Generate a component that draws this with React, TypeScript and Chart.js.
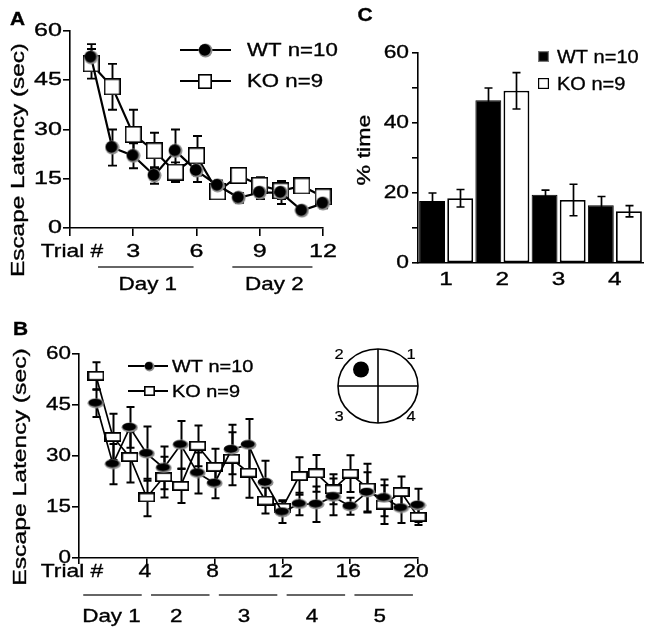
import React, { useEffect, useRef } from 'react';
import { Chart, registerables } from 'chart.js';

Chart.register(...registerables);

const FONT = '"Liberation Sans", Arial, Helvetica, sans-serif';

// ---------------- Panel A data ----------------
const trialsA = [1, 2, 3, 4, 5, 6, 7, 8, 9, 10, 11, 12];
const wtA = [52, 24.5, 22, 16, 23.5, 17.5, 13, 9.2, 10.8, 10.8, 5.3, 7.5];
const wtAErr = [4, 5.5, 3.8, 2.5, 6.5, 3.5, 1.5, 1.5, 2, 3.5, 1, 1.5];
const koA = [50, 43, 28.5, 23.5, 17, 22, 11, 16, 13, 11.3, 12.8, 9.5];
const koAErr = [4.5, 7, 7.5, 5.5, 3, 6, 1.5, 1.5, 2.5, 2.5, 1.5, 1.5];
const daysA = [
  { label: 'Day 1', from: 1.33, to: 5.86 },
  { label: 'Day 2', from: 7.7, to: 11.5 },
];

// ---------------- Panel B data ----------------
const trialsB = [1, 2, 3, 4, 5, 6, 7, 8, 9, 10, 11, 12, 13, 14, 15, 16, 17, 18, 19, 20];
const wtB = [45.5, 27.6, 38.4, 30.7, 26.5, 33.3, 25, 22, 31.9, 33.3, 22.2, 13.5, 15.9, 15.8, 18, 15.2, 19.3, 17.7, 14.7, 15.5];
const wtBErr = [4, 5.9, 6, 8, 6.3, 7, 6, 4.4, 7.3, 7.6, 6.4, 3.2, 3.3, 5.2, 5.4, 2.5, 5.9, 5.4, 4.4, 4.9];
const koB = [53.6, 35.6, 29.7, 17.8, 23.8, 21.2, 33, 26.8, 29.2, 25.1, 16.9, 14.8, 24.1, 24.9, 20.2, 24.8, 20.7, 15.7, 19.4, 12.1];
const koBErr = [4, 6.8, 7.5, 5.5, 6, 5, 6, 5.3, 7.8, 7.4, 3.8, 2.2, 5.5, 5.4, 4.4, 5.4, 7, 5.7, 4.6, 2.4];
const daysB = ['Day 1', '2', '3', '4', '5'];
const trialsPerDayB = 4;
const quadrantLabels = ['1', '2', '3', '4'];

// ---------------- Panel C data ----------------
const quadrants = ['1', '2', '3', '4'];
const wtC = [17.7, 46.5, 19.5, 16.5];
const wtCErr = [2.3, 3.5, 1.3, 2.5];
const koC = [18.5, 49.2, 18, 14.8];
const koCErr = [2.5, 5.2, 4.5, 1.6];

const seriesLabels = ['WT n=10', 'KO n=9'];

const trialLabel = (v: number) => (v === 0 ? 'Trial #' : String(v));

function drawText(ctx: any, s: string, x: number, y: number, o: any = {}) {
  const { size = 19, stretch = 1.2, align = 'center', bold = false, rot = 0, color = '#000', thick = 0.35 } = o;
  ctx.save();
  ctx.translate(x, y);
  if (rot) ctx.rotate(rot);
  ctx.scale(stretch, 1);
  ctx.font = `${bold ? 'bold ' : ''}${size}px ${FONT}`;
  ctx.fillStyle = color;
  ctx.strokeStyle = color;
  ctx.lineWidth = thick;
  ctx.textAlign = align;
  ctx.textBaseline = 'middle';
  ctx.fillText(s, 0, 0);
  if (thick > 0) ctx.strokeText(s, 0, 0);
  ctx.restore();
}

function makeDisc(w: number, h: number) {
  const c = document.createElement('canvas');
  c.width = w;
  c.height = h;
  const g = c.getContext('2d')!;
  const cx = w / 2, cy = h / 2, rx = w / 2 - 0.5, ry = h / 2 - 0.5;
  g.fillStyle = '#8c8c8c';
  g.beginPath();
  g.ellipse(cx, cy, rx, ry, 0, 0, Math.PI * 2);
  g.fill();
  g.fillStyle = '#000';
  g.beginPath();
  g.ellipse(cx - 0.7, cy - 0.7, rx - 1.1, ry - 1.1, 0, 0, Math.PI * 2);
  g.fill();
  return c;
}

function makeBox(w: number, h: number, lw: number) {
  const c = document.createElement('canvas');
  c.width = w;
  c.height = h;
  const g = c.getContext('2d')!;
  g.fillStyle = '#fff';
  g.fillRect(0, 0, w, h);
  g.strokeStyle = '#000';
  g.lineWidth = lw;
  g.strokeRect(lw / 2, lw / 2, w - lw, h - lw);
  return c;
}

function drawErr(chart: any, opts: any) {
  const { ctx } = chart;
  const ys = chart.scales.y;
  ctx.save();
  ctx.strokeStyle = '#000';
  ctx.lineWidth = opts.width || 1.8;
  const cap = opts.cap || 4;
  chart.data.datasets.forEach((ds: any, i: number) => {
    if (!ds.errors) return;
    const meta = chart.getDatasetMeta(i);
    meta.data.forEach((el: any, j: number) => {
      const d = ds.data[j];
      const v = typeof d === 'number' ? d : d.y;
      const e = ds.errors[j];
      const x = Math.round(el.x) + 0.5;
      const t = ys.getPixelForValue(v + e);
      const b = ys.getPixelForValue(v - e);
      ctx.beginPath();
      ctx.moveTo(x, t);
      ctx.lineTo(x, b);
      ctx.moveTo(x - cap, t);
      ctx.lineTo(x + cap, t);
      ctx.moveTo(x - cap, b);
      ctx.lineTo(x + cap, b);
      ctx.stroke();
    });
  });
  ctx.restore();
}

const errorBarPlugin = {
  id: 'errorBars',
  beforeDatasetsDraw(chart: any, _a: any, opts: any) {
    if (opts.layer === 'below') drawErr(chart, opts);
  },
  afterDatasetsDraw(chart: any, _a: any, opts: any) {
    if (opts.layer !== 'below') drawErr(chart, opts);
  },
};

const axisGrid = (len: number) => ({
  drawOnChartArea: false,
  drawTicks: true,
  tickLength: len,
  color: '#000',
  lineWidth: 1.6,
});
const axisBorder = { color: '#000', width: 1.6 };

function line(ctx: any, x1: number, y1: number, x2: number, y2: number, w = 1.5, color = '#000') {
  ctx.save();
  ctx.strokeStyle = color;
  ctx.lineWidth = w;
  ctx.beginPath();
  ctx.moveTo(x1, y1);
  ctx.lineTo(x2, y2);
  ctx.stroke();
  ctx.restore();
}

// ---------------- Panel A config ----------------
function configA(W: number, H: number) {
  const deco = {
    id: 'decoA',
    afterDraw(chart: any) {
      const { ctx } = chart;
      const x = chart.scales.x, y = chart.scales.y;
      y.ticks.forEach((t: any) =>
        drawText(ctx, String(t.value), y.right - 8, y.getPixelForValue(t.value), { align: 'right', stretch: 1.32 })
      );
      x.ticks.forEach((t: any) =>
        drawText(ctx, trialLabel(t.value), x.getPixelForValue(t.value) + (t.value === 0 ? 2 : 0), x.bottom + 16, {
          stretch: t.value === 0 ? 1.2 : 1.32,
        })
      );
      daysA.forEach((d) => {
        const x1 = x.getPixelForValue(d.from), x2 = x.getPixelForValue(d.to);
        line(ctx, x1, 267, x2, 267, 1.7, '#333');
        drawText(ctx, d.label, (x1 + x2) / 2 + 2, 285, { stretch: 1.18 });
      });
      drawText(ctx, 'Escape Latency (sec)', 19, 160, { rot: -Math.PI / 2, stretch: 1.28 });
      drawText(ctx, 'A', 17.5, 20, { bold: true, size: 19, stretch: 1.1 });
      chart.data.datasets.forEach((ds: any, i: number) => {
        const yy = 50 + i * 31;
        line(ctx, 180, yy, 231, yy, 2.2);
        const m = ds.legendMarker;
        ctx.drawImage(m, Math.round(205 - m.width / 2), Math.round(yy - m.height / 2));
        drawText(ctx, ds.label, 247, yy + 1, { align: 'left', size: 19, stretch: 1.17 });
      });
    },
  };
  return {
    type: 'line',
    data: {
      datasets: [
        {
          label: seriesLabels[0],
          data: trialsA.map((t, i) => ({ x: t, y: wtA[i] })),
          errors: wtAErr,
          borderColor: '#000',
          borderWidth: 2.2,
          pointStyle: makeDisc(15, 15),
          legendMarker: makeDisc(15, 15),
          pointRadius: 8,
          clip: false,
        },
        {
          label: seriesLabels[1],
          data: trialsA.map((t, i) => ({ x: t, y: koA[i] })),
          errors: koAErr,
          borderColor: '#000',
          borderWidth: 2.2,
          pointStyle: makeBox(17, 17, 1.6),
          legendMarker: makeBox(14, 15, 1.6),
          pointRadius: 8,
          clip: false,
        },
      ],
    },
    options: {
      animation: false,
      responsive: false,
      devicePixelRatio: 1,
      events: [],
      layout: { padding: { left: 0, right: W - 323, top: 31, bottom: H - 228 - 8 } },
      plugins: { legend: { display: false }, tooltip: { enabled: false }, errorBars: { layer: 'below', cap: 4.5, width: 1.9 } },
      scales: {
        x: {
          type: 'linear', min: 0, max: 12,
          ticks: { display: false, stepSize: 3 },
          grid: axisGrid(8), border: axisBorder,
          afterFit: (s: any) => { s.height = 8; },
        },
        y: {
          min: 0, max: 60,
          ticks: { display: false, stepSize: 15 },
          grid: axisGrid(7), border: axisBorder,
          afterFit: (s: any) => { s.width = 70; },
        },
      },
    },
    plugins: [errorBarPlugin, deco],
  };
}

// ---------------- Panel B config ----------------
function configB(W: number, H: number, top: number) {
  const deco = {
    id: 'decoB',
    afterDraw(chart: any) {
      const { ctx } = chart;
      const x = chart.scales.x, y = chart.scales.y;
      y.ticks.forEach((t: any) =>
        drawText(ctx, String(t.value), y.right - 8, y.getPixelForValue(t.value), { align: 'right', stretch: 1.18 })
      );
      x.ticks.forEach((t: any) =>
        drawText(ctx, trialLabel(t.value), x.getPixelForValue(t.value) + (t.value === 0 ? -7 : -2), x.bottom + 8, {
          stretch: 1.2,
        })
      );
      daysB.forEach((lab, k) => {
        const x1 = x.getPixelForValue(k * trialsPerDayB + 0.25);
        const x2 = x.getPixelForValue((k + 1) * trialsPerDayB - 0.3);
        line(ctx, x1, 295, x2, 295, 1.7, '#333');
        drawText(ctx, lab, (x1 + x2) / 2 - (k === 0 ? 1 : 4), 317, { stretch: 1.18 });
      });
      drawText(ctx, 'Escape Latency (sec)', 20.5, 167, { rot: -Math.PI / 2, stretch: 1.3 });
      drawText(ctx, 'B', 20.5, 30, { bold: true, size: 19, stretch: 1.1 });
      chart.data.datasets.forEach((ds: any, i: number) => {
        const yy = 66 + i * 25;
        line(ctx, 128, yy, 168, yy, 2);
        const m = ds.legendMarker;
        ctx.drawImage(m, Math.round(149 - m.width / 2), Math.round(yy - m.height / 2));
        drawText(ctx, ds.label, 172, yy + 1, { align: 'left', size: 17, stretch: 1.17 });
      });
      // water-maze quadrant inset
      const cx = 378, cy = 386 - top, rx = 40, ry = 37;
      ctx.save();
      ctx.strokeStyle = '#000';
      ctx.lineWidth = 1.6;
      ctx.beginPath();
      ctx.ellipse(cx, cy, rx, ry, 0, 0, Math.PI * 2);
      ctx.stroke();
      ctx.beginPath();
      ctx.moveTo(cx - rx, cy);
      ctx.lineTo(cx + rx, cy);
      ctx.moveTo(cx, cy - ry);
      ctx.lineTo(cx, cy + ry);
      ctx.stroke();
      ctx.fillStyle = '#000';
      ctx.beginPath();
      ctx.ellipse(361, 369.5 - top, 8, 8, 0, 0, Math.PI * 2);
      ctx.fill();
      ctx.restore();
      const qpos = [[411, 355], [339, 355], [339, 417], [411, 417]];
      quadrantLabels.forEach((q, i) => drawText(ctx, q, qpos[i][0], qpos[i][1] - top, { size: 15, stretch: 1.1, thick: 0.2 }));
    },
  };
  return {
    type: 'line',
    data: {
      datasets: [
        {
          label: seriesLabels[0],
          data: trialsB.map((t, i) => ({ x: t, y: wtB[i] })),
          errors: wtBErr,
          borderColor: '#000',
          borderWidth: 1.7,
          pointStyle: makeDisc(17, 11),
          legendMarker: makeDisc(11, 11),
          pointRadius: 8,
          clip: false,
        },
        {
          label: seriesLabels[1],
          data: trialsB.map((t, i) => ({ x: t, y: koB[i] })),
          errors: koBErr,
          borderColor: '#000',
          borderWidth: 1.7,
          pointStyle: makeBox(17, 10, 1.8),
          legendMarker: makeBox(11, 10, 1.6),
          pointRadius: 8,
          clip: false,
        },
      ],
    },
    options: {
      animation: false,
      responsive: false,
      devicePixelRatio: 1,
      events: [],
      layout: { padding: { left: 0, right: W - 418, top: 354 - top, bottom: H - (558 - top) - 6 } },
      plugins: { legend: { display: false }, tooltip: { enabled: false }, errorBars: { layer: 'below', cap: 4, width: 2 } },
      scales: {
        x: {
          type: 'linear', min: 0, max: 20,
          ticks: { display: false, stepSize: 4 },
          grid: axisGrid(6), border: axisBorder,
          afterFit: (s: any) => { s.height = 6; },
        },
        y: {
          min: 0, max: 60,
          ticks: { display: false, stepSize: 15 },
          grid: axisGrid(7), border: axisBorder,
          afterFit: (s: any) => { s.width = 79; },
        },
      },
    },
    plugins: [errorBarPlugin, deco],
  };
}

// ---------------- Panel C config ----------------
function configC(W: number, H: number, left: number) {
  const deco = {
    id: 'decoC',
    afterDraw(chart: any) {
      const { ctx } = chart;
      const x = chart.scales.x, y = chart.scales.y;
      y.ticks.forEach((t: any) => {
        if (t.value % 20 !== 0) return;
        drawText(ctx, String(t.value), y.right - 9, y.getPixelForValue(t.value), { align: 'right', stretch: 1.2 });
      });
      quadrants.forEach((q, i) => drawText(ctx, q, x.getPixelForValue(i), 280, { stretch: 1.28 }));
      drawText(ctx, '% time', 365 - left, 150, { rot: -Math.PI / 2, stretch: 1.22 });
      drawText(ctx, 'C', 365 - left, 16, { bold: true, size: 19, stretch: 1.1 });
      chart.data.datasets.forEach((ds: any, i: number) => {
        const yy = 56.5 + i * 27;
        const sx = 538 - left;
        ctx.save();
        ctx.fillStyle = ds.backgroundColor;
        ctx.fillRect(sx, yy - 5.5, 11, 11);
        ctx.strokeStyle = i === 0 ? '#777' : '#000';
        ctx.lineWidth = 1.2;
        ctx.strokeRect(sx + 0.6, yy - 4.9, 9.8, 9.8);
        ctx.restore();
        drawText(ctx, ds.label, 557 - left, yy + 1, { align: 'left', size: 18.5, stretch: 1.08 });
      });
    },
  };
  return {
    type: 'bar',
    data: {
      labels: quadrants,
      datasets: [
        {
          label: seriesLabels[0],
          data: wtC,
          errors: wtCErr,
          backgroundColor: '#000',
          borderColor: '#000',
          borderWidth: 1,
          barPercentage: 0.92,
          categoryPercentage: 1,
        },
        {
          label: seriesLabels[1],
          data: koC,
          errors: koCErr,
          backgroundColor: '#fff',
          borderColor: '#000',
          borderWidth: 1.8,
          borderSkipped: false,
          barPercentage: 0.92,
          categoryPercentage: 1,
        },
      ],
    },
    options: {
      animation: false,
      responsive: false,
      devicePixelRatio: 1,
      events: [],
      layout: { padding: { left: 0, right: W - (643 - left), top: 53, bottom: H - 263 } },
      plugins: { legend: { display: false }, tooltip: { enabled: false }, errorBars: { layer: 'above', cap: 4, width: 1.7 } },
      scales: {
        x: {
          ticks: { display: false },
          grid: { display: false },
          border: axisBorder,
          afterFit: (s: any) => { s.height = 0; },
        },
        y: {
          min: 0, max: 60,
          ticks: { display: false, stepSize: 10 },
          grid: axisGrid(6), border: axisBorder,
          afterFit: (s: any) => { s.width = 418 - left; },
        },
      },
    },
    plugins: [errorBarPlugin, deco],
  };
}

export default function App() {
  const aRef = useRef<HTMLCanvasElement>(null);
  const bRef = useRef<HTMLCanvasElement>(null);
  const cRef = useRef<HTMLCanvasElement>(null);

  useEffect(() => {
    const charts: Chart[] = [];
    charts.push(new Chart(aRef.current as any, configA(345, 300) as any));
    charts.push(new Chart(cRef.current as any, configC(321, 300, 330) as any));
    charts.push(new Chart(bRef.current as any, configB(450, 336, 300) as any));
    return () => charts.forEach((c) => c.destroy());
  }, []);

  return (
    <div style={{ position: 'fixed', left: 0, top: 0, width: 651, height: 636, background: '#fff', overflow: 'hidden' }}>
      <canvas ref={aRef} width={345} height={300} style={{ position: 'absolute', left: 0, top: 0 }} />
      <canvas ref={cRef} width={321} height={300} style={{ position: 'absolute', left: 330, top: 0 }} />
      <canvas ref={bRef} width={450} height={336} style={{ position: 'absolute', left: 0, top: 300 }} />
    </div>
  );
}
